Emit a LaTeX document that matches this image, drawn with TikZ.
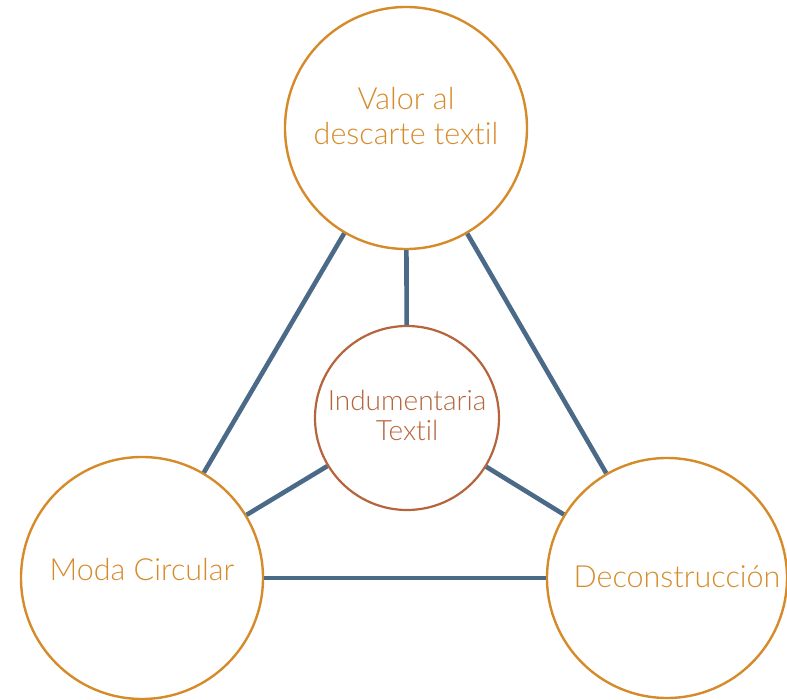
\documentclass[tikz,border=0pt]{standalone}
\usepackage{fontspec}
\setmainfont{Lato}[UprightFont=* Light, Ligatures=NoCommon]
\usepackage{tikz}
\usetikzlibrary{positioning}
\definecolor{ocre}{HTML}{D68B2B}
\definecolor{cobre}{HTML}{B5643C}
\definecolor{pizarra}{HTML}{4B6A88}
\tikzset{
        x=1pt, y=1pt,
        bigcirc/.style={circle, draw=ocre, line width=2.4pt, minimum size=242pt, inner sep=0pt}, % outer circles
        midcirc/.style={circle, draw=cobre, line width=2.2pt, minimum size=184pt, inner sep=0pt}, % centre circle
        outtext/.style={text=ocre, align=center, font=\fontsize{30.5}{35}\selectfont},
        midtext/.style={text=cobre, align=center, font=\fontsize{28}{30}\selectfont},
        link/.style={draw=pizarra, line width=4.6pt}, % connectors
}
\begin{document}
\begin{tikzpicture}
\useasboundingbox (0,0) rectangle (787,699);

\node[bigcirc] (valor) at (406,571) {};
\node[bigcirc] (moda) at (142,121) {};
\node[bigcirc, minimum size=240pt] (decon) at (667,121) {};
\node[midcirc] (indu) at (407,281) {};

\node[outtext] (t-valor) at ([yshift=12pt]valor.center) {Valor al\\descarte textil};
\node[outtext] (t-moda) at ([yshift=8pt]moda.center) {Moda Circular};
\node[outtext] (t-decon) at ([xshift=10pt,yshift=1pt]decon.center) {Deconstrucción};
\node[midtext] (t-indu) at ([yshift=3pt]indu.center) {Indumentaria\\Textil};

\draw[link] (valor) -- (moda);
\draw[link] (valor) -- (decon);
\draw[link] (moda) -- (decon);
\draw[link] (valor) -- (indu);
\draw[link] (indu) -- (moda);
\draw[link] (indu) -- (decon);

\end{tikzpicture}
\end{document}
